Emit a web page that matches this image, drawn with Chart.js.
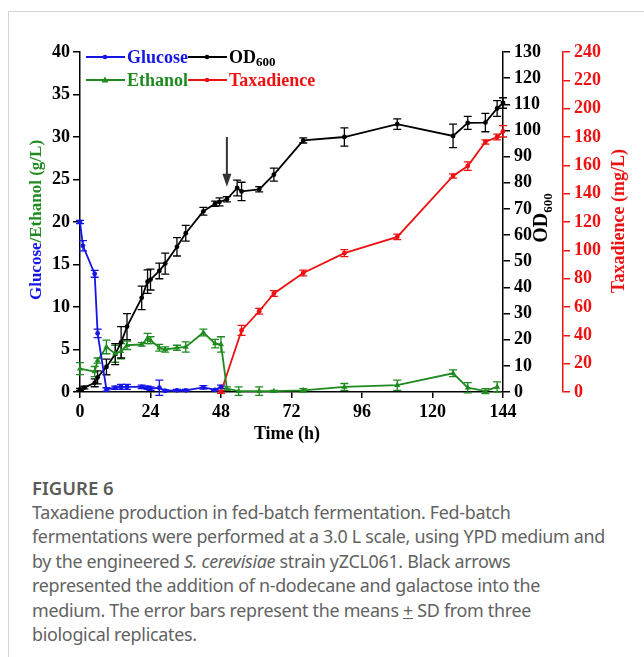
<!DOCTYPE html>
<html>
<head>
<meta charset="utf-8">
<script src="https://cdn.jsdelivr.net/npm/chart.js@4.4.1/dist/chart.umd.min.js"></script>
<style>
  html, body { margin:0; padding:0; background:#fff; width:644px; height:657px; overflow:hidden; }
  #frame { position:absolute; left:8px; top:11px; width:636px; height:646px; border-left:1px solid #d4d4d4; border-top:1px solid #d4d4d4; }
  #c { position:absolute; left:0; top:0; }
  #cap { position:absolute; left:32px; top:475px; font-family:"Noto Sans", "Open Sans", sans-serif; color:#626262; }
  #cap .h { font-size:18.5px; font-weight:600; line-height:25px; color:#5a5a5a; }
  #cap .l { font-size:17.9px; line-height:24.4px; white-space:nowrap; letter-spacing:-0.3px; }
</style>
</head>
<body>
<div id="frame"></div>
<canvas id="c" width="644" height="450"></canvas>
<div id="cap">
  <div class="h">FIGURE 6</div>
  <div class="l">Taxadiene production in fed-batch fermentation. Fed-batch</div>
  <div class="l">fermentations were performed at a 3.0 L scale, using YPD medium and</div>
  <div class="l">by the engineered <i>S. cerevisiae</i> strain yZCL061. Black arrows</div>
  <div class="l">represented the addition of n-dodecane and galactose into the</div>
  <div class="l">medium. The error bars represent the means <u>+</u> SD from three</div>
  <div class="l">biological replicates.</div>
</div>
<script>
// ---- data (time in h) ----
const glucoseTime = [0, 1, 5, 6, 9, 12, 14, 16, 21, 23, 24, 27, 29, 33, 36, 42, 46, 48];
const glucoseVal  = [20, 17.2, 13.9, 6.9, 0.3, 0.5, 0.6, 0.6, 0.6, 0.5, 0.4, 0.5, 0.15, 0.2, 0.2, 0.55, 0.25, 0.6];
const glucoseSD   = [0.2, 0.6, 0.4, 0.5, 0.2, 0.2, 0.3, 0.3, 0.2, 0.2, 0.2, 0.9, 0.1, 0.1, 0.1, 0.2, 0.1, 0.2];

const ethanolTime = [0, 5, 6, 9, 12, 14, 16, 21, 23, 24, 27, 29, 33, 36, 42, 46, 48, 50, 54, 61, 66, 76, 90, 108, 127, 132, 138, 142];
const ethanolVal  = [2.75, 2.4, 3.7, 5.3, 4.5, 4.8, 5.5, 5.6, 6.3, 6.1, 5.2, 5.0, 5.2, 5.3, 7.0, 5.7, 5.6, 0.4, 0.1, 0.1, 0.1, 0.2, 0.6, 0.8, 2.2, 0.5, 0.1, 0.6];
const ethanolSD   = [0.7, 0.6, 0.3, 0.8, 1.0, 0.9, 0.5, 0.2, 0.6, 0.4, 0.4, 0.3, 0.3, 0.6, 0.4, 0.5, 0.9, 0.2, 0.5, 0.5, 0.1, 0.2, 0.4, 0.6, 0.4, 0.6, 0.3, 0.6];

const odTime = [0, 1.5, 5, 6, 9, 12, 14, 16, 21, 23, 24, 27, 29, 33, 36, 42, 46, 47.5, 50, 53.5, 55, 61, 66, 76, 90, 108, 127, 132, 138, 142, 144];
const odVal  = [1, 1.7, 3.5, 5.6, 9.6, 14.5, 19, 25, 36, 42.2, 43, 46.3, 49.1, 55.5, 60.7, 69.1, 72, 72.7, 73.7, 78, 76.7, 77.5, 83.1, 96.2, 97.5, 102.4, 97.9, 102.9, 103, 108.4, 110.5];
const odSD   = [0.4, 0.5, 1.5, 2.5, 3, 4, 6, 5, 4.5, 4.5, 4, 3, 4, 3.5, 3, 1.5, 1, 1.5, 1, 3, 3.5, 1, 2.5, 1, 3.5, 2, 4.5, 2.5, 3.5, 3, 2];

const taxaTime = [48, 55, 61, 66, 76, 90, 108, 127, 132, 138, 142, 144];
const taxaVal  = [0, 43.5, 57, 69.5, 84, 98, 109.5, 152.5, 159.5, 176.5, 180, 184];
const taxaSD   = [1, 3.5, 2, 2, 2, 2.5, 2, 1.5, 3, 1.5, 2, 4];

// arrow marking addition of n-dodecane and galactose (time, OD600 from -> to)
const arrowTime = 50;
const arrowFromOD = 97.5;
const arrowToOD = 78.5;

const xTicks = [0, 24, 48, 72, 96, 120, 144];

const BLUE = '#1515e6', GREEN = '#1f8a1f', BLACK = '#000000', RED = '#ee1111';
const FONT = '"Liberation Serif", "Times New Roman", serif';

function pts(t, v) { return t.map((x, i) => ({ x: x, y: v[i] })); }

const errorBars = {
  id: 'errorBars',
  beforeDatasetsDraw(chart) {
    const ctx = chart.ctx;
    const xs = chart.scales.x;
    chart.data.datasets.forEach(ds => {
      const ys = chart.scales[ds.yAxisID];
      ctx.save();
      ctx.strokeStyle = ds.borderColor;
      ctx.lineWidth = 1.3;
      ds.data.forEach((p, i) => {
        const sd = ds.errors[i];
        const px = xs.getPixelForValue(p.x);
        const y1 = ys.getPixelForValue(p.y - sd);
        const y2 = ys.getPixelForValue(p.y + sd);
        ctx.beginPath();
        ctx.moveTo(px, y1); ctx.lineTo(px, y2);
        ctx.moveTo(px - 4, y1); ctx.lineTo(px + 4, y1);
        ctx.moveTo(px - 4, y2); ctx.lineTo(px + 4, y2);
        ctx.stroke();
      });
      ctx.restore();
    });
  }
};

const decorations = {
  id: 'decorations',
  afterDraw(chart) {
    const ctx = chart.ctx;
    const xs = chart.scales.x, yo = chart.scales.yOD;
    ctx.save();
    // arrow
    const ax = xs.getPixelForValue(arrowTime);
    const ay1 = yo.getPixelForValue(arrowFromOD);
    const ay2 = yo.getPixelForValue(arrowToOD);
    ctx.strokeStyle = '#333'; ctx.fillStyle = '#333'; ctx.lineWidth = 2;
    ctx.beginPath(); ctx.moveTo(ax, ay1); ctx.lineTo(ax, ay2 - 10); ctx.stroke();
    ctx.beginPath(); ctx.moveTo(ax - 4.5, ay2 - 13); ctx.lineTo(ax + 4.5, ay2 - 13); ctx.lineTo(ax, ay2); ctx.closePath(); ctx.fill();

    // legend
    ctx.textBaseline = 'middle';
    ctx.textAlign = 'left';
    const legend = [
      { x: 86, y: 57, c: BLUE, label: 'Glucose', shape: 'circle' },
      { x: 188, y: 57, c: BLACK, label: 'OD', sub: '600', shape: 'circle' },
      { x: 86, y: 80, c: GREEN, label: 'Ethanol', shape: 'triangle' },
      { x: 188, y: 80, c: RED, label: 'Taxadience', shape: 'circle' }
    ];
    legend.forEach(it => {
      ctx.strokeStyle = it.c; ctx.fillStyle = it.c; ctx.lineWidth = 1.8;
      ctx.beginPath(); ctx.moveTo(it.x, it.y); ctx.lineTo(it.x + 39, it.y); ctx.stroke();
      const mx = it.x + 19;
      ctx.beginPath();
      if (it.shape === 'circle') { ctx.arc(mx, it.y, 2.3, 0, Math.PI * 2); }
      else { ctx.moveTo(mx, it.y - 3.5); ctx.lineTo(mx + 3.5, it.y + 2.5); ctx.lineTo(mx - 3.5, it.y + 2.5); ctx.closePath(); }
      ctx.fill();
      ctx.font = 'bold 18px ' + FONT;
      ctx.fillText(it.label, it.x + 41, it.y + 1);
      if (it.sub) {
        const w = ctx.measureText(it.label).width;
        ctx.font = 'bold 13px ' + FONT;
        ctx.fillText(it.sub, it.x + 41 + w, it.y + 6);
      }
    });

    // left title (two colours)
    ctx.save();
    ctx.translate(37, 220);
    ctx.rotate(-Math.PI / 2);
    ctx.font = 'bold 17px ' + FONT;
    const p1 = 'Glucose', p2 = '/Ethanol (g/L)';
    const w1 = ctx.measureText(p1).width, w2 = ctx.measureText(p2).width;
    const start = -(w1 + w2) / 2;
    ctx.textBaseline = 'middle';
    ctx.fillStyle = BLUE; ctx.fillText(p1, start, 0);
    ctx.fillStyle = GREEN; ctx.fillText(p2, start + w1, 0);
    ctx.restore();

    // OD600 title
    ctx.save();
    ctx.translate(542, 218);
    ctx.rotate(-Math.PI / 2);
    ctx.font = 'bold 20px ' + FONT;
    const wOD = ctx.measureText('OD').width;
    ctx.font = 'bold 13px ' + FONT;
    const wSub = ctx.measureText('600').width;
    const s0 = -(wOD + wSub) / 2;
    ctx.fillStyle = BLACK; ctx.textBaseline = 'middle';
    ctx.font = 'bold 20px ' + FONT; ctx.fillText('OD', s0, 0);
    ctx.font = 'bold 13px ' + FONT; ctx.fillText('600', s0 + wOD, 7);
    ctx.restore();

    // Taxadience title
    ctx.save();
    ctx.translate(619, 221);
    ctx.rotate(-Math.PI / 2);
    ctx.font = 'bold 18px ' + FONT;
    ctx.textAlign = 'center'; ctx.textBaseline = 'middle';
    ctx.fillStyle = RED; ctx.fillText('Taxadience (mg/L)', 0, 0);
    ctx.restore();

    // x title
    ctx.font = 'bold 18px ' + FONT;
    ctx.textAlign = 'center'; ctx.textBaseline = 'middle';
    ctx.fillStyle = BLACK; ctx.fillText('Time (h)', 287, 434);
    ctx.restore();
  }
};

function axisCommon(color) {
  return {
    grid: { drawOnChartArea: false, drawTicks: true, tickLength: 7, color: color, lineWidth: 1.5 },
    border: { display: true, color: color, width: 1.5 },
    ticks: { color: color, font: { family: FONT, size: 18, weight: 'bold' }, padding: 3 }
  };
}

const xAxis = axisCommon(BLACK);
xAxis.type = 'linear'; xAxis.min = 0; xAxis.max = 144; xAxis.position = 'bottom';
xAxis.grid.tickLength = 6;
xAxis.ticks.padding = 4;
xAxis.afterBuildTicks = s => { s.ticks = xTicks.map(v => ({ value: v })); };
xAxis.afterFit = s => { s.height = 58; };

const yAxis = axisCommon(BLACK);
yAxis.min = 0; yAxis.max = 40; yAxis.position = 'left'; yAxis.ticks.stepSize = 5;
yAxis.afterFit = s => { s.width = 80; };

const odAxis = axisCommon(BLACK);
odAxis.min = 0; odAxis.max = 130; odAxis.position = 'right'; odAxis.weight = 0; odAxis.ticks.stepSize = 10;
odAxis.ticks.padding = 4;
odAxis.afterFit = s => { s.width = 60; };

const taxaAxis = axisCommon(RED);
taxaAxis.min = 0; taxaAxis.max = 240; taxaAxis.position = 'right'; taxaAxis.weight = 1; taxaAxis.ticks.stepSize = 20;
taxaAxis.ticks.padding = 4;
taxaAxis.afterFit = s => { s.width = 81; };

function ds(label, t, v, sd, color, axis, shape, r) {
  return {
    label: label, data: pts(t, v), errors: sd, yAxisID: axis,
    borderColor: color, backgroundColor: color, borderWidth: 1.8,
    pointStyle: shape, pointRadius: r, pointBorderWidth: 0, pointBackgroundColor: color,
    showLine: true, tension: 0, clip: false
  };
}

new Chart(document.getElementById('c'), {
  type: 'scatter',
  data: {
    datasets: [
      ds('Glucose', glucoseTime, glucoseVal, glucoseSD, BLUE, 'y', 'circle', 2.4),
      ds('Ethanol', ethanolTime, ethanolVal, ethanolSD, GREEN, 'y', 'triangle', 3.5),
      ds('Taxadience', taxaTime, taxaVal, taxaSD, RED, 'yTaxa', 'circle', 2.4),
      ds('OD600', odTime, odVal, odSD, BLACK, 'yOD', 'circle', 2.4)
    ]
  },
  options: {
    responsive: false, animation: false, devicePixelRatio: 1,
    layout: { padding: { top: 52, left: 0, right: 0, bottom: 0 } },
    plugins: { legend: { display: false }, tooltip: { enabled: false } },
    scales: { x: xAxis, y: yAxis, yOD: odAxis, yTaxa: taxaAxis }
  },
  plugins: [errorBars, decorations]
});
</script>
</body>
</html>
